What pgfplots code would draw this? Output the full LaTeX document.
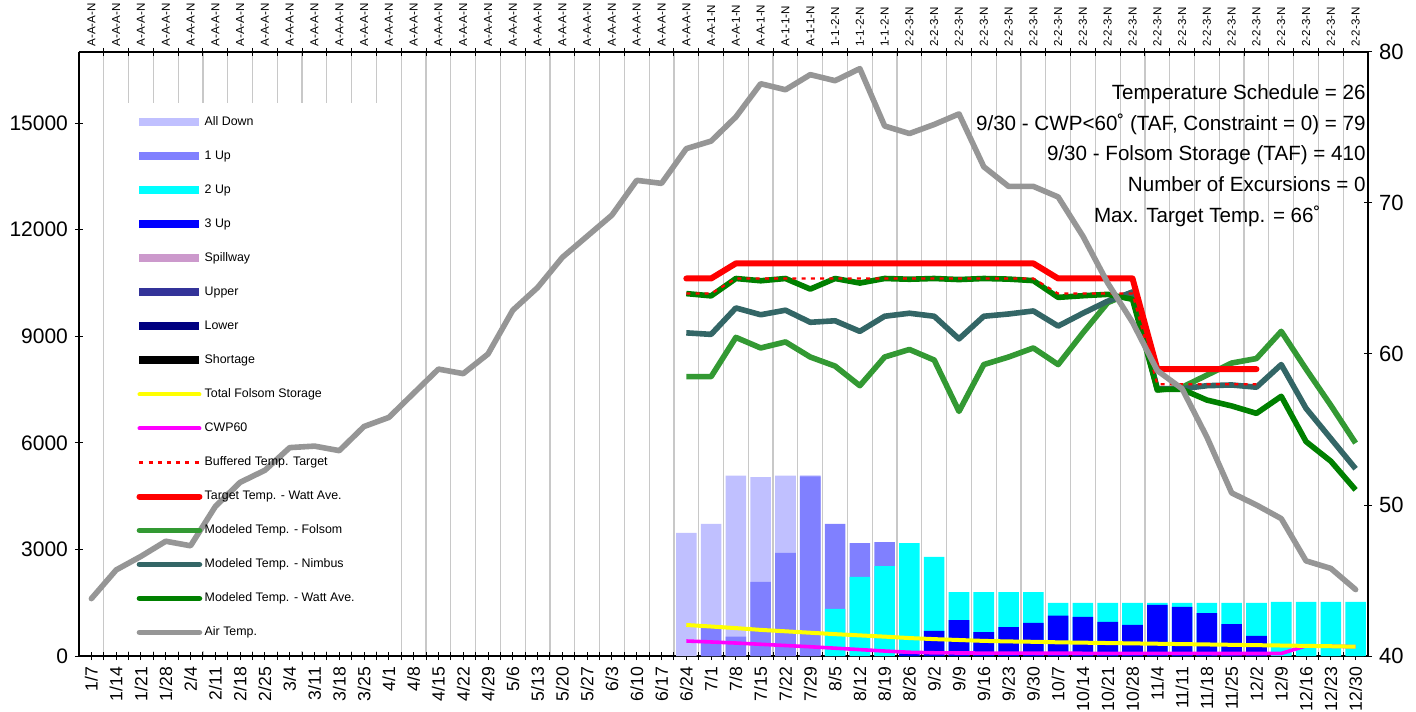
\documentclass[border=0pt]{standalone}
\usepackage{pgfplots}
\pgfplotsset{compat=1.18}
\usepackage{fontspec}
\setmainfont{Liberation Sans}
\definecolor{alldown}{RGB}{192,192,255}
\definecolor{oneup}{RGB}{128,128,255}
\definecolor{twoup}{RGB}{0,255,255}
\definecolor{threeup}{RGB}{0,0,255}
\definecolor{spill}{RGB}{204,153,204}
\definecolor{upperc}{RGB}{51,51,153}
\definecolor{lowerc}{RGB}{0,0,128}
\definecolor{folsom}{RGB}{51,153,51}
\definecolor{nimbus}{RGB}{51,102,102}
\definecolor{watt}{RGB}{0,128,0}
\definecolor{airt}{RGB}{150,150,150}
\definecolor{gridc}{RGB}{200,200,200}
\definecolor{yel}{RGB}{255,255,0}
\definecolor{mag}{RGB}{255,0,255}
\definecolor{rd}{RGB}{255,0,0}
\pgfplotsset{base/.style={scale only axis, width=644.5pt, height=302pt,
  xmin=-0.5, xmax=51.5, at={(0,0)}, anchor=south west,
  scaled y ticks=false,
  /pgf/number format/assume math mode=true, /pgf/number format/1000 sep={},
  axis line style={black, line width=0.8pt},
  tick style={black, line width=0.5pt}, tick align=center,
  major tick length=4pt, minor tick length=4pt,
  minor xtick={0.5,1.5,...,50.5}}}
\begin{document}
\begin{tikzpicture}
\begin{axis}[base, ymin=0, ymax=17000, axis x line*=bottom, axis y line*=left,
  ytick={0,3000,...,15000},
  y tick label style={font=\fontsize{10.5}{12}\selectfont},
  xtick={0,...,51},
  xticklabels={1/7,1/14,1/21,1/28,2/4,2/11,2/18,2/25,3/4,3/11,3/18,3/25,4/1,4/8,4/15,4/22,4/29,5/6,5/13,5/20,5/27,6/3,6/10,6/17,6/24,7/1,7/8,7/15,7/22,7/29,8/5,8/12,8/19,8/26,9/2,9/9,9/16,9/23,9/30,10/7,10/14,10/21,10/28,11/4,11/11,11/18,11/25,12/2,12/9,12/16,12/23,12/30},
  x tick label style={rotate=90, anchor=east, font=\fontsize{8.8}{10}\selectfont},
  xminorgrids=true, minor grid style={gridc, line width=0.6pt}]
\fill[white] (axis cs:0.56,150) rectangle (axis cs:12.44,15565);
% All Down
\addplot[ybar, bar width=0.83, bar shift=0pt, fill=alldown, draw=none] coordinates {
(24,3462) (25,3716) (26,5075) (27,5038) (28,5075) (29,5085)};
% 1 Up
\addplot[ybar, bar width=0.83, bar shift=0pt, fill=oneup, draw=none] coordinates {
(25,790) (26,545) (27,2083) (28,2900) (29,5055) (30,3716) (31,3180) (32,3208)};
% 2 Up
\addplot[ybar, bar width=0.83, bar shift=0pt, fill=twoup, draw=none] coordinates {
(30,1323) (31,2224) (32,2533) (33,3180) (34,2787) (35,1801) (36,1801) (37,1801) (38,1801)
(39,1492) (40,1492) (41,1492) (42,1492) (43,1492) (44,1492) (45,1492) (46,1492) (47,1492)
(48,1520) (49,1520) (50,1520) (51,1520)};
% 3 Up
\addplot[ybar, bar width=0.83, bar shift=0pt, fill=threeup, draw=none] coordinates {
(33,70) (34,704) (35,1013) (36,675) (37,816) (38,929) (39,1135) (40,1098) (41,957) (42,873)
(43,1436) (44,1380) (45,1210) (46,900) (47,563)};
% CWP60
\addplot[mag, line width=1.8pt, line join=round] coordinates {
(24,422) (25,395) (26,365) (27,330) (28,295) (29,260) (30,220) (31,180) (32,140) (33,105)
(34,90) (35,85) (36,82) (37,80) (38,79) (39,77) (40,76) (41,75) (42,75) (43,74) (44,73)
(45,72) (46,71) (47,70) (48,70) (49,285) (50,275) (51,262)};
% Total Folsom Storage
\addplot[yel, line width=2pt, line join=round] coordinates {
(24,873) (25,830) (26,785) (27,735) (28,695) (29,655) (30,615) (31,580) (32,545) (33,505)
(34,475) (35,450) (36,425) (37,410) (38,400) (39,385) (40,375) (41,365) (42,355) (43,345)
(44,335) (45,325) (46,315) (47,305) (48,295) (49,285) (50,275) (51,262)};
\end{axis}
\begin{axis}[base, ymin=40, ymax=80, axis x line*=top, axis y line*=right,
  ytick={40,50,...,80},
  y tick label style={font=\fontsize{11}{12}\selectfont},
  xtick={0,...,51},
  major x tick style={draw=none},
  xticklabels={A-A-A-N,A-A-A-N,A-A-A-N,A-A-A-N,A-A-A-N,A-A-A-N,A-A-A-N,A-A-A-N,A-A-A-N,A-A-A-N,A-A-A-N,A-A-A-N,A-A-A-N,A-A-A-N,A-A-A-N,A-A-A-N,A-A-A-N,A-A-A-N,A-A-A-N,A-A-A-N,A-A-A-N,A-A-A-N,A-A-A-N,A-A-A-N,A-A-A-N,A-A-1-N,A-A-1-N,A-A-1-N,A-1-1-N,A-1-1-N,1-1-2-N,1-1-2-N,1-1-2-N,2-2-3-N,2-2-3-N,2-2-3-N,2-2-3-N,2-2-3-N,2-2-3-N,2-2-3-N,2-2-3-N,2-2-3-N,2-2-3-N,2-2-3-N,2-2-3-N,2-2-3-N,2-2-3-N,2-2-3-N,2-2-3-N,2-2-3-N,2-2-3-N,2-2-3-N},
  xticklabel style={rotate=90, anchor=west, inner sep=0.5pt, font=\fontsize{5.8}{7}\selectfont},
  legend image code/.code={\draw[#1] (0pt,0pt) -- (30pt,0pt);},
  legend cell align=left,
  legend style={at={(rel axis cs:0.0435,0.8957)}, anchor=north west, draw=none, fill=none,
    inner sep=0pt, font=\fontsize{6.2}{7}\selectfont, row sep=9.9pt, column sep=0pt,
    nodes={inner sep=0.6pt, text height=4.6pt, text depth=1.3pt}}]
\addlegendimage{alldown, line width=4pt}\addlegendentry{All Down}
\addlegendimage{oneup, line width=4pt}\addlegendentry{1 Up}
\addlegendimage{twoup, line width=4pt}\addlegendentry{2 Up}
\addlegendimage{threeup, line width=4pt}\addlegendentry{3 Up}
\addlegendimage{spill, line width=4pt}\addlegendentry{Spillway}
\addlegendimage{upperc, line width=4pt}\addlegendentry{Upper}
\addlegendimage{lowerc, line width=4pt}\addlegendentry{Lower}
\addlegendimage{black, line width=4pt}\addlegendentry{Shortage}
\addlegendimage{yel, line width=2pt, line cap=round}\addlegendentry{Total Folsom Storage}
\addlegendimage{mag, line width=2pt, line cap=round}\addlegendentry{CWP60}
% Modeled Temp - Folsom
\addplot[folsom, line width=2.8pt, line join=round, forget plot] coordinates {
(24,58.5) (25,58.5) (26,61.1) (27,60.4) (28,60.8) (29,59.8) (30,59.2) (31,57.9) (32,59.8) (33,60.3)
(34,59.6) (35,56.2) (36,59.3) (37,59.8) (38,60.4) (39,59.3) (40,61.4) (41,63.4) (42,64.1) (43,57.6)
(44,57.8) (45,58.6) (46,59.4) (47,59.7) (48,61.5) (49,59.0) (50,56.6) (51,54.1)};
% Nimbus
\addplot[nimbus, line width=2.8pt, line join=round, forget plot] coordinates {
(24,61.4) (25,61.3) (26,63.05) (27,62.6) (28,62.9) (29,62.1) (30,62.2) (31,61.5) (32,62.5) (33,62.7)
(34,62.5) (35,61.0) (36,62.5) (37,62.65) (38,62.85) (39,61.85) (40,62.7) (41,63.5) (42,64.1) (43,57.7)
(44,57.7) (45,57.9) (46,57.95) (47,57.8) (48,59.3) (49,56.4) (50,54.4) (51,52.4)};
% Watt Ave
\addplot[watt, line width=2.8pt, line join=round, forget plot] coordinates {
(24,64.0) (25,63.85) (26,65.0) (27,64.85) (28,65.0) (29,64.3) (30,65.0) (31,64.7) (32,65.0) (33,64.95)
(34,65.0) (35,64.93) (36,65.0) (37,64.96) (38,64.86) (39,63.75) (40,63.86) (41,63.95) (42,63.62) (43,57.66)
(44,57.66) (45,56.95) (46,56.56) (47,56.07) (48,57.2) (49,54.2) (50,52.9) (51,51.0)};
% Buffered target
\addplot[rd, line width=1.1pt, dash pattern=on 2pt off 2.6pt] coordinates {
(24,64) (25,64) (26,65) (27,65) (28,65) (29,65) (30,65) (31,65) (32,65) (33,65) (34,65) (35,65)
(36,65) (37,65) (38,65) (39,64) (40,64) (41,64) (42,64) (43,58) (44,58) (45,58) (46,58) (47,58)};
\addlegendentry{Buffered Temp. Target}
% Target Watt Ave
\addplot[rd, line width=3pt, line join=round, line cap=round] coordinates {
(24,65) (25,65) (26,66) (27,66) (28,66) (29,66) (30,66) (31,66) (32,66) (33,66) (34,66) (35,66)
(36,66) (37,66) (38,66) (39,65) (40,65) (41,65) (42,65) (43,59) (44,59) (45,59) (46,59) (47,59)};
\addlegendentry{Target Temp. - Watt Ave.}
\addlegendimage{folsom, line width=2.8pt, line cap=round}\addlegendentry{Modeled Temp. - Folsom}
\addlegendimage{nimbus, line width=2.8pt, line cap=round}\addlegendentry{Modeled Temp. - Nimbus}
\addlegendimage{watt, line width=2.8pt, line cap=round}\addlegendentry{Modeled Temp. - Watt Ave.}
% Air temp
\addplot[airt, line width=2.8pt, line join=round, line cap=round] coordinates {
(0,43.8) (1,45.7) (2,46.6) (3,47.6) (4,47.3) (5,49.9) (6,51.5) (7,52.3) (8,53.8) (9,53.9)
(10,53.6) (11,55.2) (12,55.8) (13,57.4) (14,59.0) (15,58.7) (16,60.0) (17,62.9) (18,64.4) (19,66.4)
(20,67.8) (21,69.2) (22,71.5) (23,71.3) (24,73.6) (25,74.1) (26,75.7) (27,77.9) (28,77.5) (29,78.5)
(30,78.1) (31,78.9) (32,75.1) (33,74.6) (34,75.2) (35,75.9) (36,72.4) (37,71.1) (38,71.1) (39,70.4)
(40,67.8) (41,64.7) (42,62.1) (43,58.9) (44,57.7) (45,54.5) (46,50.8) (47,50.0) (48,49.1) (49,46.3)
(50,45.8) (51,44.4)};
\addlegendentry{Air Temp.}
\node[anchor=north east, align=right, inner sep=0pt, font=\fontsize{10.3}{15.4}\selectfont]
  at (rel axis cs:0.9984,0.947) {Temperature Schedule = 26\\
  9/30 - CWP<60˚ (TAF, Constraint = 0) = 79\\
  9/30 - Folsom Storage (TAF) = 410\\
  Number of Excursions = 0\\
  Max. Target Temp. = 66˚\hspace*{22.5pt}};
\end{axis}
\pgfresetboundingbox
\path (-39.5pt,-27.5pt) rectangle (668.5pt,328pt);
\end{tikzpicture}
\end{document}
